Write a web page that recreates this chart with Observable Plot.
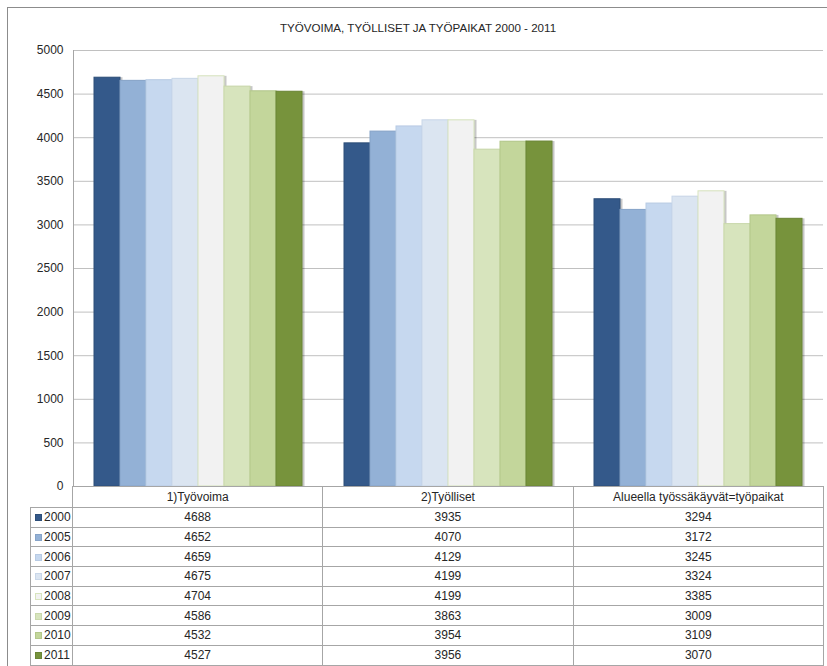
<!DOCTYPE html>
<html>
<head>
<meta charset="utf-8">
<script src="https://cdn.jsdelivr.net/npm/d3@7"></script>
<script src="https://cdn.jsdelivr.net/npm/@observablehq/plot@0.6"></script>
<style>
  html, body { margin: 0; padding: 0; background: #fff; }
  body { width: 827px; height: 666px; overflow: hidden; position: relative; font-family: "Liberation Sans", Arial, sans-serif; color: #262626; }
  #frame { position: absolute; left: 7px; top: 7px; width: 840px; height: 680px; border-left: 1px solid #8c8c8c; border-top: 1px solid #8c8c8c; box-sizing: border-box; }
  #title { position: absolute; left: 7px; width: 822px; top: 21px; text-align: center; font-size: 11.6px; color: #262626; }
  #chart { position: absolute; left: 0; top: 40px; }
  #chart svg { overflow: visible; }
  #table { position: absolute; left: 30px; top: 486px; border-collapse: collapse; table-layout: fixed; font-size: 12px; color: #262626; }
  #table td { border: 1px solid #a6a6a6; padding: 0; text-align: center; height: 18.7px; line-height: 16px; white-space: nowrap; }
  #table tr.head td { height: 20px; }
  #table tr.head td.blank { border: none; border-right: 1px solid #a6a6a6; }
  #table td.leg { text-align: left; padding-left: 4px; }
  .sw { display: inline-block; width: 7px; height: 7px; margin-right: 2px; vertical-align: 0px; box-sizing: border-box; }
</style>
</head>
<body>
<div id="frame"></div>
<div id="title"></div>
<div id="chart"></div>
<table id="table"></table>
<script>
const title = "TYÖVOIMA, TYÖLLISET JA TYÖPAIKAT 2000 - 2011";
const categories = ["1)Työvoima", "2)Työlliset", "Alueella työssäkäyvät=työpaikat"];
const years = ["2000", "2005", "2006", "2007", "2008", "2009", "2010", "2011"];
const tyovoima = [4688, 4652, 4659, 4675, 4704, 4586, 4532, 4527];
const tyolliset = [3935, 4070, 4129, 4199, 4199, 3863, 3954, 3956];
const tyopaikat = [3294, 3172, 3245, 3324, 3385, 3009, 3109, 3070];
const yTicks = [0, 500, 1000, 1500, 2000, 2500, 3000, 3500, 4000, 4500, 5000];

const colors = ["#34598a", "#93b1d6", "#c6d8ef", "#dbe5f1", "#f2f2f2", "#d7e4bd", "#c3d69b", "#77933c"];
const strokes = ["#2d4e78", "#86a3c8", "#b8cbe4", "#c9d7e9", "#d7e4bd", "#c9d8ab", "#b3c78a", "#6a8535"];

const series = [tyovoima, tyolliset, tyopaikat];
const data = categories.flatMap((c, i) => years.map((y, j) => ({category: c, year: y, value: series[i][j]})));

document.getElementById("title").textContent = title;

const fillOf = d => colors[years.indexOf(d.year)];
const strokeOf = d => strokes[years.indexOf(d.year)];

const plot = Plot.plot({
  width: 827,
  height: 457,
  marginTop: 10,
  marginBottom: 11,
  marginLeft: 72,
  marginRight: 4,
  style: {fontFamily: "Liberation Sans, Arial, sans-serif", fontSize: "12px", color: "#262626", background: "transparent"},
  fx: {domain: categories, padding: 0, axis: null, label: null},
  x: {domain: years, paddingInner: 0, paddingOuter: 0.74, axis: null, label: null},
  y: {domain: [0, 5000], axis: null},
  marks: [
    Plot.gridY(yTicks, {stroke: "#c0c0c0", strokeOpacity: 1, strokeWidth: 1}),
    Plot.barY(data, {fx: "category", x: "year", y: "value", fill: "#000", fillOpacity: 0.22, dx: 2.5}),
    Plot.barY(data, {fx: "category", x: "year", y: "value", fill: fillOf, stroke: strokeOf, strokeWidth: 1}),
    Plot.frame({anchor: "left", stroke: "#a6a6a6", facetAnchor: "left"}),
    Plot.axisY(yTicks, {tickSize: 0, tickPadding: 10, label: null, fontSize: 12, fill: "#262626", tickFormat: d => String(d)})
  ]
});
document.getElementById("chart").appendChild(plot);

// table
const table = document.getElementById("table");
const colgroup = document.createElement("colgroup");
[42, 250.3, 250.3, 250.4].forEach(w => { const c = document.createElement("col"); c.style.width = w + "px"; colgroup.appendChild(c); });
table.appendChild(colgroup);
const head = document.createElement("tr");
head.className = "head";
const blank = document.createElement("td"); blank.className = "blank"; head.appendChild(blank);
categories.forEach(c => { const td = document.createElement("td"); td.textContent = c; head.appendChild(td); });
table.appendChild(head);
years.forEach((y, j) => {
  const tr = document.createElement("tr");
  const leg = document.createElement("td"); leg.className = "leg";
  const sw = document.createElement("span"); sw.className = "sw";
  sw.style.background = colors[j];
  sw.style.border = "1px solid " + strokes[j];
  leg.appendChild(sw);
  leg.appendChild(document.createTextNode(y));
  tr.appendChild(leg);
  series.forEach(s => { const td = document.createElement("td"); td.textContent = s[j]; tr.appendChild(td); });
  table.appendChild(tr);
});
</script>
</body>
</html>
